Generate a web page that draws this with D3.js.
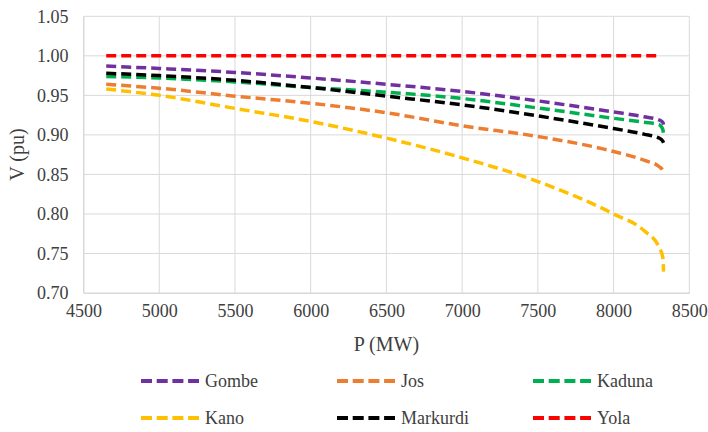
<!DOCTYPE html>
<html>
<head>
<meta charset="utf-8">
<script src="https://cdn.jsdelivr.net/npm/d3@7"></script>
<style>
  body { margin: 0; background: #fff; }
</style>
</head>
<body>
<div id="chart"></div>
<script>
// Power (MW) at each sample
var power = [4650, 5000, 5500, 6000, 6500, 7000, 7500, 8000, 8200, 8300, 8325, 8330];

// Bus voltage (pu) per bus
var gombe    = [0.987, 0.984, 0.979, 0.972, 0.964, 0.955, 0.943, 0.929, 0.923, 0.919, 0.916, 0.913];
var jos      = [0.964, 0.959, 0.949, 0.940, 0.928, 0.9115, 0.898, 0.879, 0.868, 0.860, 0.855, 0.852];
var kaduna   = [0.974, 0.972, 0.967, 0.960, 0.954, 0.946, 0.934, 0.921, 0.916, 0.913, 0.907, 0.900];
var kano     = [0.958, 0.950, 0.9335, 0.917, 0.896, 0.871, 0.841, 0.800, 0.779, 0.758, 0.745, 0.727];
var markurdi = [0.978, 0.975, 0.969, 0.960, 0.949, 0.938, 0.924, 0.908, 0.901, 0.896, 0.892, 0.890];
var yola     = [1.000, 1.000, 1.000, 1.000, 1.000, 1.000, 1.000, 1.000, 1.000, 1.000, null, null];

var names  = ["Gombe", "Jos", "Kaduna", "Kano", "Markurdi", "Yola"];
var colors = ["#7030A0", "#ED7D31", "#00B050", "#FFC000", "#000000", "#FF0000"];
var values = [gombe, jos, kaduna, kano, markurdi, yola];

var xTicks = [4500, 5000, 5500, 6000, 6500, 7000, 7500, 8000, 8500];
var yTicks = [0.70, 0.75, 0.80, 0.85, 0.90, 0.95, 1.00, 1.05];

var width = 708, height = 432;
var plotLeft = 83.5, plotRight = 689.3, plotTop = 16.3, plotBottom = 293;
var font = "'Liberation Serif', serif", textColor = "#404040";

var svg = d3.select("#chart").append("svg")
  .attr("width", width)
  .attr("height", height)
  .style("font-family", font);

var x = d3.scaleLinear().domain([4500, 8500]).range([plotLeft, plotRight]);
var y = d3.scaleLinear().domain([0.70, 1.05]).range([plotBottom, plotTop]);

// gridlines
svg.append("g").selectAll("line")
  .data(yTicks).enter().append("line")
    .attr("x1", plotLeft).attr("x2", plotRight)
    .attr("y1", function(d) { return y(d); })
    .attr("y2", function(d) { return y(d); })
    .style("stroke", "#d9d9d9").style("stroke-width", 1);

svg.append("g").selectAll("line")
  .data(xTicks).enter().append("line")
    .attr("x1", function(d) { return x(d); })
    .attr("x2", function(d) { return x(d); })
    .attr("y1", plotTop).attr("y2", plotBottom)
    .style("stroke", "#d9d9d9").style("stroke-width", 1);

// axes (labels only, lines are the grid)
var xAxis = svg.append("g")
  .attr("transform", "translate(0," + plotBottom + ")")
  .call(d3.axisBottom(x).tickValues(xTicks).tickSize(0).tickPadding(11).tickFormat(d3.format("d")));
var yAxis = svg.append("g")
  .attr("transform", "translate(" + plotLeft + ",0)")
  .call(d3.axisLeft(y).tickValues(yTicks).tickSize(0).tickPadding(15).tickFormat(d3.format(".2f")));

[xAxis, yAxis].forEach(function(a) {
  a.attr("font-family", null).attr("font-size", null);
  a.select(".domain").style("stroke", "#d9d9d9");
  a.selectAll("text")
    .style("font-family", font)
    .style("font-size", "18px")
    .style("fill", textColor);
});

// axis titles
svg.append("text")
  .attr("x", (plotLeft + plotRight) / 2).attr("y", 351)
  .attr("text-anchor", "middle")
  .style("font-family", font)
  .style("font-size", "20px")
  .style("fill", textColor)
  .text("P (MW)");

svg.append("text")
  .attr("transform", "translate(24," + ((plotTop + plotBottom) / 2) + ") rotate(-90)")
  .attr("text-anchor", "middle")
  .style("font-family", font)
  .style("font-size", "20px")
  .style("fill", textColor)
  .text("V (pu)");

// series
var line = d3.line()
  .defined(function(d) { return d[1] != null; })
  .x(function(d) { return x(d[0]); })
  .y(function(d) { return y(d[1]); })
  .curve(d3.curveMonotoneX);

names.forEach(function(n, i) {
  var pts = power.map(function(p, j) { return [p, values[i][j]]; });
  svg.append("path")
    .datum(pts)
    .attr("d", line)
    .style("fill", "none")
    .style("stroke", colors[i])
    .style("stroke-width", 3.5)
    .style("stroke-dasharray", "10,5");
});

// legend
var legX = [141, 337, 533], legY = [381, 418];
var leg = svg.append("g").selectAll("g")
  .data(names).enter().append("g")
    .attr("transform", function(d, i) {
      return "translate(" + legX[i % 3] + "," + legY[Math.floor(i / 3)] + ")";
    });

leg.append("line")
  .attr("x1", 0).attr("x2", 58).attr("y1", 0).attr("y2", 0)
  .style("stroke", function(d, i) { return colors[i]; })
  .style("stroke-width", 4)
  .style("stroke-dasharray", "11,4.7");

leg.append("text")
  .attr("x", 64).attr("y", 6)
  .style("font-family", font)
  .style("font-size", "18px")
  .style("fill", textColor)
  .text(function(d) { return d; });
</script>
</body>
</html>
